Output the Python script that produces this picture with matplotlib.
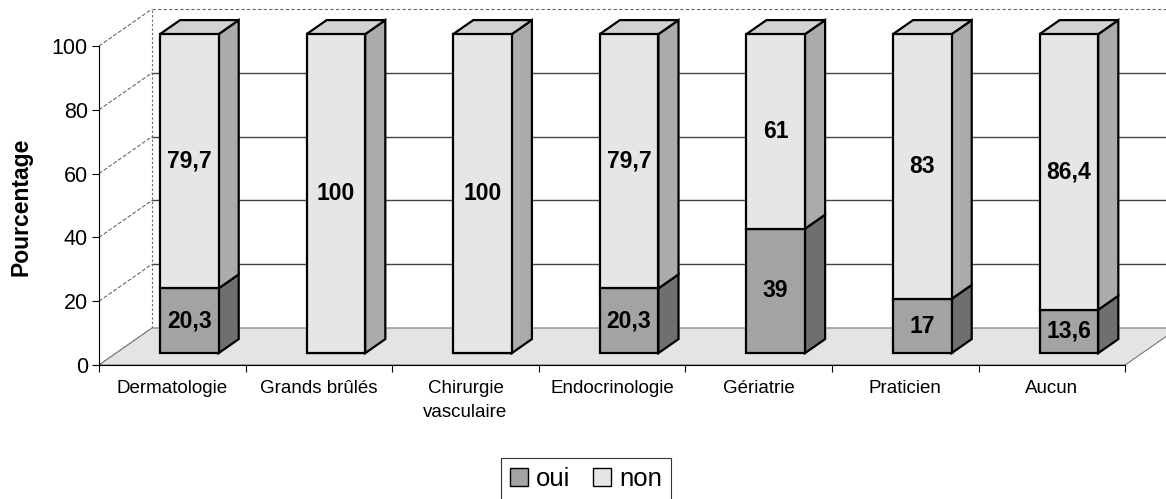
import matplotlib.pyplot as plt
from matplotlib.patches import Polygon, Patch
import numpy as np

categories = ['Dermatologie', 'Grands brûlés', 'Chirurgie\nvasculaire',
              'Endocrinologie', 'Gériatrie', 'Praticien', 'Aucun']
oui = [20.3, 0, 0, 20.3, 39, 17, 13.6]
non = [79.7, 100, 100, 79.7, 61, 83, 86.4]
series_names = ['oui', 'non']

# pseudo 3d: depth offset of the back wall in data units
DX = 0.3615
DY = 11.6
Z0, Z1 = 0.32, 0.70   # front / back of the bars inside the depth
W = 0.40

face = {'oui': '#a3a3a3', 'non': '#e6e6e6'}
side = {'oui': '#6f6f6f', 'non': '#ababab'}
top_col = '#d2d2d2'

plt.rcParams['font.family'] = ['Liberation Sans', 'DejaVu Sans']

fig = plt.figure(figsize=(11.66, 4.99), dpi=100)
ax = fig.add_axes([99 / 1166, 134 / 499, 1067 / 1166, 365 / 499])
ax.set_xlim(-0.5, -0.5 + 1067 / 146.6)
ax.set_ylim(0, 365 / 3.19)

n = len(categories)
left, right = -0.5, n - 0.5

# walls
for v in range(0, 101, 20):
    ax.plot([left, left + DX], [v, v + DY], color='#555555', lw=0.7, ls=(0, (4, 2)), zorder=1)
    if 0 < v < 100:
        ax.plot([left + DX, right + DX], [v + DY, v + DY], color='#444444', lw=1.0, zorder=1)
ax.plot([left + DX, right + DX], [100 + DY, 100 + DY], color='#666666', lw=0.8, ls=(0, (3, 2)), zorder=1)
ax.plot([left + DX, left + DX], [DY, 100 + DY], color='#666666', lw=0.8, ls=(0, (2, 2)), zorder=1)

# floor
floor = Polygon([(left, 0), (right, 0), (right + DX, DY), (left + DX, DY)],
                closed=True, facecolor='#e4e4e4', edgecolor='#777777', lw=0.8, zorder=2)
ax.add_patch(floor)

# bars
xc = np.arange(n) + Z0 * DX
d = Z1 - Z0
bottoms = np.zeros(n)
for name, vals in zip(series_names, [oui, non]):
    vals = np.array(vals)
    ax.bar(xc, vals, width=W, bottom=bottoms + Z0 * DY, color=face[name],
           edgecolor='black', lw=1.6, zorder=4)
    for i in range(n):
        if vals[i] <= 0:
            continue
        xr = xc[i] + W / 2
        xl = xc[i] - W / 2
        yb = bottoms[i] + Z0 * DY
        yt = yb + vals[i]
        ax.add_patch(Polygon([(xr, yb), (xr + d * DX, yb + d * DY), (xr + d * DX, yt + d * DY), (xr, yt)],
                             closed=True, facecolor=side[name], edgecolor='black', lw=1.6, zorder=3))
        if name == 'non' or bottoms[i] + vals[i] >= 100:
            ax.add_patch(Polygon([(xl, yt), (xr, yt), (xr + d * DX, yt + d * DY), (xl + d * DX, yt + d * DY)],
                                 closed=True, facecolor=top_col, edgecolor='black', lw=1.6, zorder=3))
        label = f'{vals[i]:g}'.replace('.', ',')
        ax.text(xc[i], yb + vals[i] / 2, label, ha='center', va='center',
                fontsize=16.5, fontweight='bold', zorder=5)
    bottoms = bottoms + vals

# axes
for s in ['top', 'right']:
    ax.spines[s].set_visible(False)
ax.spines['left'].set_bounds(0, 100)
ax.spines['bottom'].set_bounds(left, right)
ax.spines['left'].set_zorder(6)
ax.spines['bottom'].set_zorder(6)
ax.set_yticks(range(0, 101, 20))
ax.tick_params(axis='y', direction='out', length=5, pad=3, labelsize=15.5)
ax.set_xticks(np.arange(left, right + 0.01, 1))
ax.set_xticklabels([])
ax.set_xticks(np.arange(n), labels=categories, minor=True)
for t in ax.get_xticklabels(minor=True):
    t.set_linespacing(1.5)
ax.tick_params(axis='x', which='major', direction='out', length=5)
ax.tick_params(axis='x', which='minor', length=0, pad=11, labelsize=13.5)
ax.set_ylabel('Pourcentage', fontsize=16.5, fontweight='bold')
ax.yaxis.set_label_coords(-0.062, 0.433)

handles = [Patch(facecolor=face['oui'], edgecolor='black'),
           Patch(facecolor=face['non'], edgecolor='black')]
leg = fig.legend(handles, series_names, loc='center', bbox_to_anchor=(586 / 1166, 1 - 479 / 499),
                 ncol=2, fontsize=18.5, frameon=True, fancybox=False, edgecolor='black',
                 handlelength=0.7, handleheight=0.7, handletextpad=0.3, columnspacing=0.9,
                 borderpad=0.35)
leg.get_frame().set_linewidth(0.8)

fig.savefig('out.png', dpi=100)
